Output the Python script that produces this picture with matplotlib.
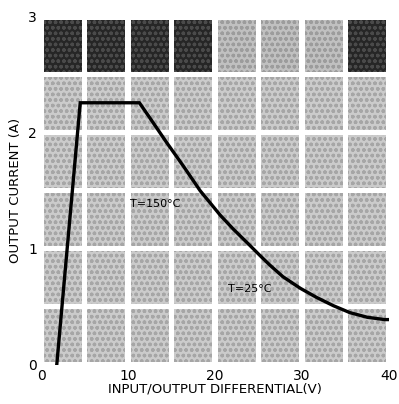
import matplotlib.pyplot as plt
from matplotlib.patches import Rectangle

# data
volts = [1.8, 4.5, 11.3, 12.5, 14.5, 16.3, 18.3, 19.4, 20.6, 22.1, 24.0, 25.2,
         26.3, 27.8, 29.8, 31.7, 33.6, 35.5, 37.5, 39.5, 40.0]
amps = [0.0, 2.26, 2.26, 2.13, 1.91, 1.72, 1.50, 1.40, 1.29, 1.17, 1.03, 0.94,
        0.86, 0.76, 0.66, 0.58, 0.51, 0.45, 0.41, 0.39, 0.39]

x_ticks = [0, 10, 20, 30, 40]
y_ticks = [0, 1, 2, 3]
top_row_dark = [1, 1, 1, 1, 0, 0, 0, 1]

fig = plt.figure(figsize=(3.99, 4.04), dpi=100)
ax = fig.add_axes([0.103, 0.097, 0.872, 0.861])
ax.set_xlim(0, 40)
ax.set_ylim(0, 3)

# grey halftone-ish cells with white gaps every 5 V / 0.5 A
gx, gy = 0.3, 0.022
for i in range(8):
    for j in range(6):
        x0, y0 = i * 5, j * 0.5
        if j == 5 and top_row_dark[i]:
            fc, hc = '#262626', '#4a4a4a'
        elif j == 5:
            fc, hc = '#c0c0c0', '#9c9c9c'
        else:
            fc, hc = '#cbcbcb', '#a6a6a6'
        r = Rectangle((x0 + gx, y0 + gy), 5 - 2 * gx, 0.5 - 2 * gy,
                      facecolor=fc, edgecolor=hc, hatch='ooo', lw=0)
        ax.add_patch(r)

ax.plot(volts, amps, color='black', lw=2.4, solid_joinstyle='miter', zorder=5)

ax.text(13.1, 1.39, 'T=150°C', fontsize=8, ha='center', va='center', zorder=6)
ax.text(24.0, 0.65, 'T=25°C', fontsize=8, ha='center', va='center', zorder=6)

for s in ax.spines.values():
    s.set_visible(False)
ax.set_xticks(x_ticks)
ax.set_yticks(y_ticks)
ax.tick_params(length=0, labelsize=10)
ax.tick_params(axis='x', pad=3)
ax.tick_params(axis='y', pad=3)
ax.set_xlabel('INPUT/OUTPUT DIFFERENTIAL(V)', fontsize=9.5, labelpad=0)
ax.set_ylabel('OUTPUT CURRENT (A)', fontsize=9.5, labelpad=4)

plt.savefig('out.png', dpi=100)
